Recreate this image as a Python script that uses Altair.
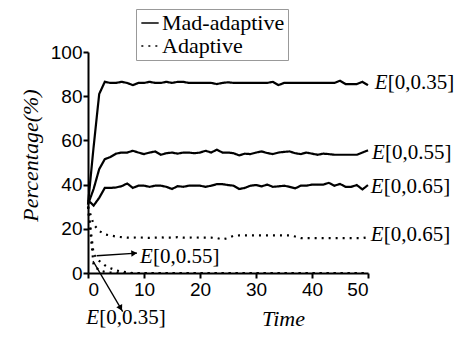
import altair as alt
import pandas as pd

SERIF = "'Liberation Serif', 'Times New Roman', Times, serif"
SANS = "'Liberation Sans', Arial, Helvetica, sans-serif"

time = list(range(51))

mad_035 = [31, 57, 81, 86.5, 86, 86, 86.5, 86, 85, 86, 86, 86.5, 86, 86, 86.5, 86, 86.5, 86.5, 86, 86,
           86, 86, 86, 85.5, 86, 86.3, 86, 86, 86, 86, 86, 86, 86, 86.5, 85, 86, 86, 86, 86, 86,
           86, 86, 86, 86, 86, 87, 85.5, 85.5, 85.5, 86.5, 85]
mad_055 = [31, 38, 47, 51.5, 52.5, 54, 54.5, 54.5, 55.3, 54.5, 53.8, 54.5, 55, 53.5, 54.2, 54.5, 54, 54.5, 54.5, 54.2,
           54.5, 55.3, 54.5, 55.8, 54.5, 54.5, 54.2, 53.2, 54, 53.8, 54.5, 55, 54.3, 53.8, 54.5, 54.8, 55, 54.2, 53.8, 54.5,
           54, 53.5, 54, 53.8, 53.5, 53.5, 53.5, 53.5, 53.5, 54.5, 55.5]
mad_065 = [33, 30.5, 34, 38.5, 38.5, 38.7, 39.3, 40.5, 38.5, 39.5, 39.5, 39, 39.5, 39.5, 39, 38, 39.3, 39, 39.5, 39.5,
           39.5, 39, 39.5, 40.2, 40.2, 39.8, 39.5, 38, 38.5, 39.5, 39.8, 39.2, 40, 39, 39.2, 39.5, 39, 38.3, 39.5, 39.5,
           40, 40, 40, 40.8, 39.5, 40.3, 39, 39, 39.8, 37.8, 39.8]
ada_035 = [30, 3.5, 1.2, 0.5, 0.2, 0, 0, 0, 0, 0, 0, 0, 0, 0, 0, 0, 0, 0, 0, 0,
           0, 0, 0, 0, 0, 0, 0, 0, 0, 0, 0, 0, 0, 0, 0, 0, 0, 0, 0, 0,
           0, 0, 0, 0, 0, 0, 0, 0, 0, 0, 0]
ada_055 = [30, 8.5, 5.5, 3.5, 2.2, 1.2, 0.6, 0.3, 0, 0, 0, 0, 0, 0, 0, 0, 0, 0, 0, 0,
           0, 0, 0, 0, 0, 0, 0, 0, 0, 0, 0, 0, 0, 0, 0, 0, 0, 0, 0, 0,
           0, 0, 0, 0, 0, 0, 0, 0, 0, 0, 0]
ada_065 = [30, 22, 19, 17.5, 17, 16.5, 16.2, 16, 16, 16.1, 16, 15.9, 16, 16.1, 16, 16, 16.2, 16, 16, 16.1,
           16, 16, 16, 15.8, 15.2, 15.8, 16.8, 17, 17, 17, 17, 17, 17, 17, 17, 17, 17, 16.5, 15.8, 15.8,
           15.8, 15.8, 15.8, 15.8, 15.8, 15.8, 15.8, 15.8, 15.8, 15.8, 16.2]

series = [
    ("Mad-adaptive", "E[0,0.35]", mad_035),
    ("Mad-adaptive", "E[0,0.55]", mad_055),
    ("Mad-adaptive", "E[0,0.65]", mad_065),
    ("Adaptive", "E[0,0.35]", ada_035),
    ("Adaptive", "E[0,0.55]", ada_055),
    ("Adaptive", "E[0,0.65]", ada_065),
]

rows = []
for typ, e, vals in series:
    for t, v in zip(time, vals):
        rows.append({"Time": t, "Value": v, "Type": typ, "Series": typ + " " + e})
df = pd.DataFrame(rows)

# annotation labels (E italic + bracket part)
label_rest = ["[0,0.35]", "[0,0.55]", "[0,0.65]", "[0,0.65]", "[0,0.55]", "[0,0.35]"]
label_t = [51.2, 50.7, 50.5, 50.5, 9.3, -0.3]
label_v = [86, 54.5, 39, 17.2, 7.2, -20.5]
lab_df = pd.DataFrame({"t": label_t, "v": label_v, "rest": label_rest, "e": ["E"] * 6})

# arrows (start -> tip)
arrow_t0 = [1.55, 0.9]
arrow_v0 = [7.8, 5.4]
arrow_t1 = [8.75, 6.2]
arrow_v1 = [9.0, -17.5]
arrow_angle = [356, 61]
arr_df = pd.DataFrame({"t0": arrow_t0, "v0": arrow_v0, "t1": arrow_t1, "v1": arrow_v1, "ang": arrow_angle})
arr_df["th"] = arr_df["t1"] - 0.07 * (arr_df["t1"] - arr_df["t0"])
arr_df["vh"] = arr_df["v1"] - 0.07 * (arr_df["v1"] - arr_df["v0"])

xs = alt.Scale(domain=[0, 50], nice=False)
ys = alt.Scale(domain=[0, 100], nice=False)

x_axis = alt.Axis(
    values=list(range(0, 51, 5)),
    labelExpr="datum.value % 10 === 0 ? datum.label : ''",
    tickSize={"condition": {"test": "datum.value % 10 !== 0", "value": -4}, "value": 5},
    title="Time", titleFont=SERIF, titleFontStyle="italic", titleFontWeight="normal",
    titleFontSize=22, titleColor="black", titleX=195, titleY=45, titleAlign="center",
    titleBaseline="middle", labelPadding=2, grid=False, zindex=1,
)
y_axis = alt.Axis(
    values=list(range(0, 101, 10)),
    labelExpr="datum.value % 20 === 0 ? datum.label : ''",
    tickSize={"condition": {"test": "datum.value % 20 !== 0", "value": -4}, "value": 5},
    title="Percentage(%)", titleFont=SERIF, titleFontStyle="italic", titleFontWeight="normal",
    titleFontSize=22, titleColor="black", titleX=-58, titleY=103, titleAngle=270, titleAlign="center",
    titleBaseline="middle", labelPadding=1, grid=False, zindex=1,
)

lines = alt.Chart(df).mark_line(color="black", strokeWidth=2.2).encode(
    x=alt.X("Time:Q", scale=xs, axis=x_axis),
    y=alt.Y("Value:Q", scale=ys, axis=y_axis),
    detail="Series:N",
    strokeDash=alt.StrokeDash(
        "Type:N",
        scale=alt.Scale(domain=["Mad-adaptive", "Adaptive"], range=[[1, 0], [2, 5]]),
        legend=alt.Legend(
            title=None, orient="none", legendX=48, legendY=-43, direction="vertical",
            fillColor="white", strokeColor="#999999", padding=3,
            labelFont=SERIF, labelFontSize=22, labelColor="black", labelOffset=1,
            symbolType="stroke", symbolSize=300, symbolStrokeWidth=1.5, symbolStrokeColor="black",
            rowPadding=1,
        ),
    ),
)

e_text = alt.Chart(lab_df).mark_text(
    font=SERIF, fontSize=21, fontStyle="italic", color="black", align="left", baseline="middle"
).encode(x=alt.X("t:Q", scale=xs), y=alt.Y("v:Q", scale=ys), text="e:N")

rest_text = alt.Chart(lab_df).mark_text(
    font=SERIF, fontSize=21, color="black", align="left", baseline="middle", dx=13
).encode(x=alt.X("t:Q", scale=xs), y=alt.Y("v:Q", scale=ys), text="rest:N")

arrow_lines = alt.Chart(arr_df).mark_rule(color="black", strokeWidth=1.3).encode(
    x=alt.X("t0:Q", scale=xs), y=alt.Y("v0:Q", scale=ys), x2="t1:Q", y2="v1:Q"
)
arrow_heads = alt.Chart(arr_df).mark_point(
    shape="triangle-right", filled=True, color="black", size=45, opacity=1
).encode(x=alt.X("th:Q", scale=xs), y=alt.Y("vh:Q", scale=ys), angle=alt.Angle("ang:Q", scale=None))

chart = alt.layer(lines, arrow_lines, arrow_heads, e_text, rest_text).properties(
    width=280, height=221,
    autosize=alt.AutoSizeParams(type="none"),
    padding={"left": 80, "top": 44, "right": 89, "bottom": 57},
).configure(background="white").configure_view(stroke=None).configure_axis(
    domainColor="black", domainWidth=2, tickColor="black", tickWidth=2,
    labelFont=SANS, labelFontSize=19, labelColor="black",
)

chart.save("out.html", embed_options={"renderer": "svg", "actions": False})
